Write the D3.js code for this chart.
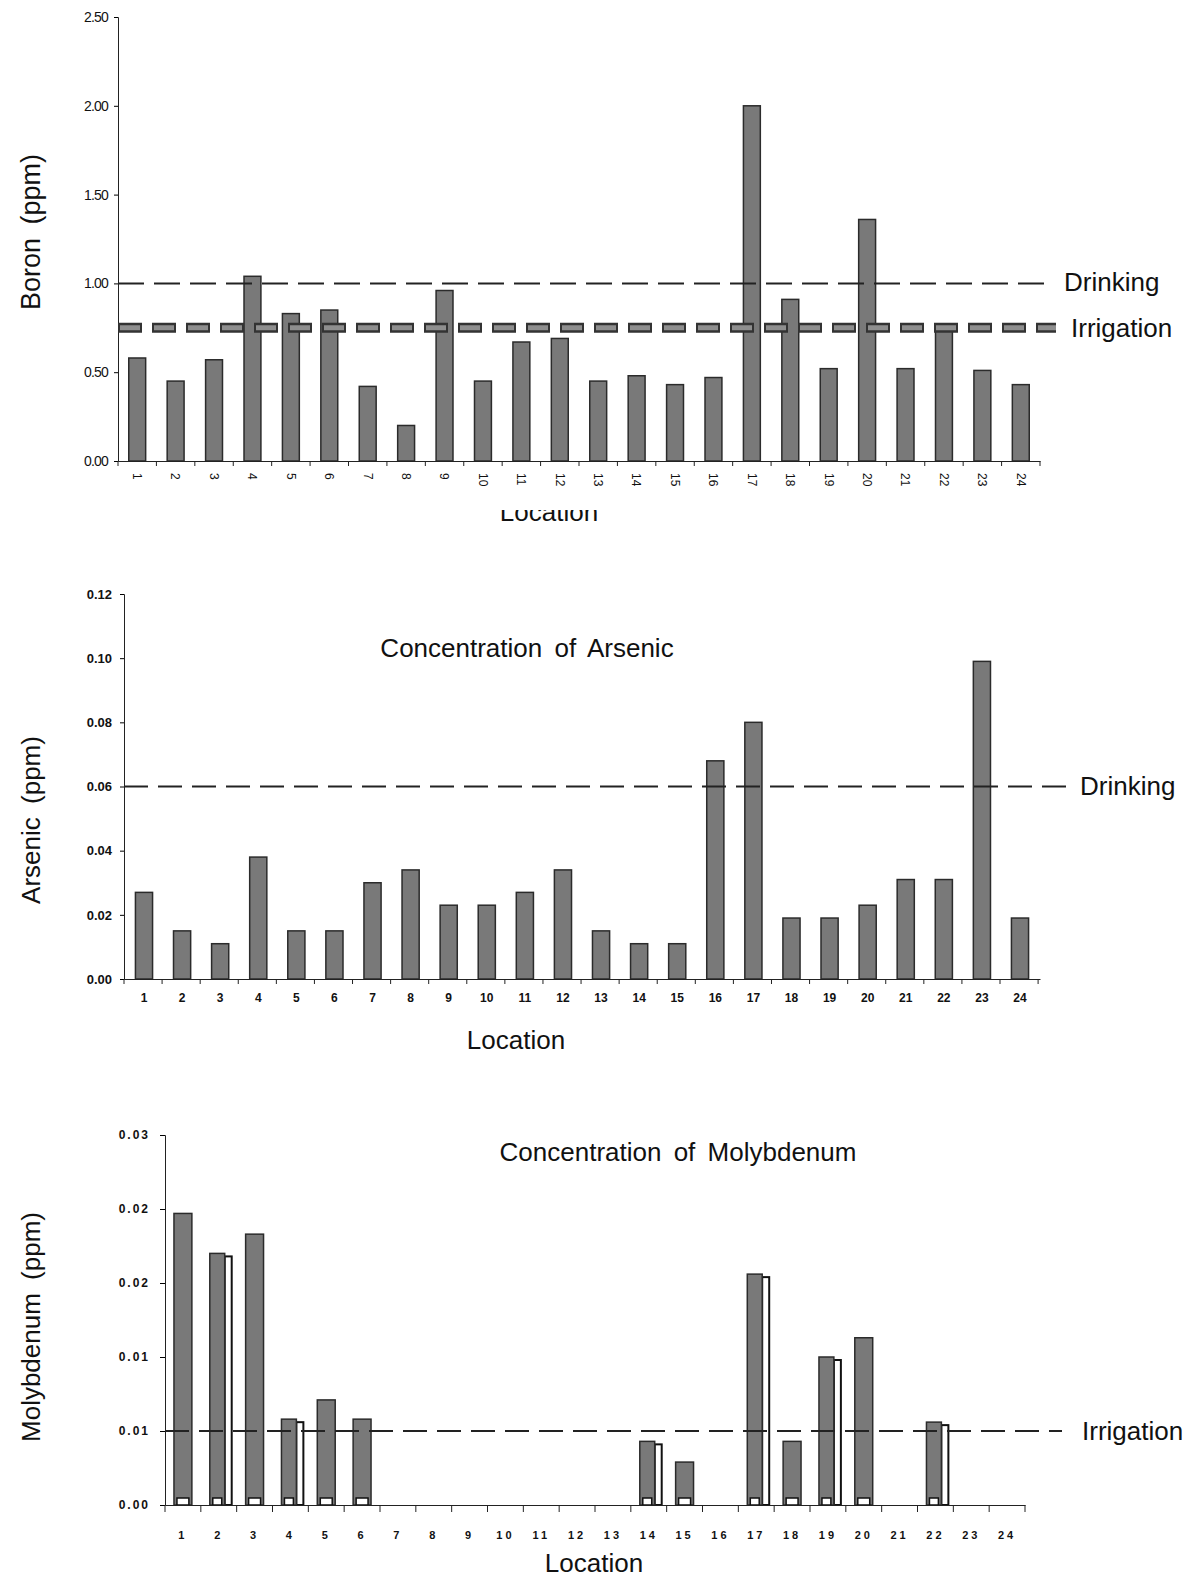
<!DOCTYPE html>
<html>
<head>
<meta charset="utf-8">
<script src="https://cdn.jsdelivr.net/npm/d3@7"></script>
<style>
  html, body { margin: 0; padding: 0; background: #fff; }
  svg { display: block; }
  text { font-family: "Liberation Sans", Arial, sans-serif; fill: #111; }
</style>
</head>
<body>
<svg id="chart" width="1186" height="1579"></svg>
<script>
// ---------- DATA ----------
const locations = d3.range(1, 25).map(String);

const boronValues = [0.58, 0.45, 0.57, 1.04, 0.83, 0.85, 0.42, 0.20, 0.96, 0.45, 0.67, 0.69,
                     0.45, 0.48, 0.43, 0.47, 2.00, 0.91, 0.52, 1.36, 0.52, 0.77, 0.51, 0.43];
const boronTicks = [0, 0.5, 1.0, 1.5, 2.0, 2.5];
const boronTickLabels = ["0.00", "0.50", "1.00", "1.50", "2.00", "2.50"];
const boronDrinking = 1.0;
const boronIrrigation = 0.75;

const arsenicValues = [0.027, 0.015, 0.011, 0.038, 0.015, 0.015, 0.030, 0.034, 0.023, 0.023, 0.027, 0.034,
                       0.015, 0.011, 0.011, 0.068, 0.080, 0.019, 0.019, 0.023, 0.031, 0.031, 0.099, 0.019];
const arsenicTicks = [0, 0.02, 0.04, 0.06, 0.08, 0.10, 0.12];
const arsenicTickLabels = ["0.00", "0.02", "0.04", "0.06", "0.08", "0.10", "0.12"];
const arsenicDrinking = 0.06;

const molyValues = [0.0197, 0.0170, 0.0183, 0.0058, 0.0071, 0.0058, 0, 0, 0, 0, 0, 0,
                    0, 0.0043, 0.0029, 0, 0.0156, 0.0043, 0.0100, 0.0113, 0, 0.0056, 0, 0];
const molyOutlined = [2, 4, 14, 17, 19, 22];
const molyTicks = [0, 0.005, 0.010, 0.015, 0.020, 0.025];
const molyTickLabels = ["0.00", "0.01", "0.01", "0.02", "0.02", "0.03"];
const molyIrrigation = 0.005;

// ---------- DRAW ----------
const svg = d3.select("#chart");
const barFill = "#797979";
const barStroke = "#2b2b2b";
const LBL = "26px";

// ===== Chart 1: Boron =====
(function () {
  const x = d3.scaleBand().domain(locations).range([118, 1040]).paddingInner(0.56).paddingOuter(0.28);
  const y = d3.scaleLinear().domain([0, 2.5]).range([461, 17]);
  const g = svg.append("g");

  g.selectAll("rect.bar").data(boronValues).join("rect")
    .attr("x", (d, i) => x(locations[i]))
    .attr("width", x.bandwidth())
    .attr("y", d => y(d))
    .attr("height", d => y(0) - y(d))
    .attr("fill", barFill).attr("stroke", barStroke).attr("stroke-width", 1.5);

  const yAxis = d3.axisLeft(y).tickValues(boronTicks)
    .tickFormat((d, i) => boronTickLabels[i]).tickSize(4).tickPadding(6);
  const ya = g.append("g").attr("transform", "translate(118,0)").call(yAxis);
  ya.selectAll("text").style("font-size", "14px").attr("font-family", "'Liberation Sans Narrow','Liberation Sans',Arial").attr("letter-spacing", "-0.8px");

  const xAxis = d3.axisBottom(x).tickSize(0).tickPadding(0);
  const xa = g.append("g").attr("transform", `translate(0,${y(0)})`).call(xAxis);
  xa.select(".domain").attr("stroke", "#222");
  xa.selectAll("text")
    .style("font-size", "12px")
    .attr("text-anchor", "start")
    .attr("dy", "0.35em")
    .attr("transform", "translate(0,12) rotate(90)")
    .attr("y", 0).attr("x", 0);
  g.selectAll("line.bt").data(d3.range(25)).join("line")
    .attr("x1", i => 118 + i * x.step()).attr("x2", i => 118 + i * x.step())
    .attr("y1", y(0)).attr("y2", y(0) + 5).attr("stroke", "#222");
  ya.select(".domain").attr("stroke", "#222");

  // Drinking line
  g.append("line").attr("x1", 118).attr("x2", 1050)
    .attr("y1", y(boronDrinking)).attr("y2", y(boronDrinking))
    .attr("stroke", "#222").attr("stroke-width", 2).attr("stroke-dasharray", "26,10");
  g.append("text").attr("x", 1064).attr("y", y(boronDrinking) + 8)
    .style("font-size", LBL).text("Drinking");

  // Irrigation thick line
  g.append("line").attr("x1", 118).attr("x2", 1056)
    .attr("y1", y(boronIrrigation)).attr("y2", y(boronIrrigation))
    .attr("stroke", "#333").attr("stroke-width", 10).attr("stroke-dasharray", "24,10");
  g.append("line").attr("x1", 120).attr("x2", 1056)
    .attr("y1", y(boronIrrigation)).attr("y2", y(boronIrrigation))
    .attr("stroke", "#8e8e8e").attr("stroke-width", 5).attr("stroke-dasharray", "20,14");
  g.append("text").attr("x", 1071).attr("y", y(boronIrrigation) + 9)
    .style("font-size", LBL).text("Irrigation");

  // Y title
  g.append("text").attr("transform", "translate(40,232) rotate(-90)")
    .attr("text-anchor", "middle").style("font-size", "27px").attr("word-spacing", "6px").text("Boron (ppm)");

  // clipped Location label
  svg.append("clipPath").attr("id", "locClip").append("rect")
    .attr("x", 400).attr("y", 510).attr("width", 300).attr("height", 20);
  g.append("text").attr("x", 549).attr("y", 521).attr("text-anchor", "middle")
    .attr("clip-path", "url(#locClip)").style("font-size", LBL).text("Location");
})();

// ===== Chart 2: Arsenic =====
(function () {
  const x = d3.scaleBand().domain(locations).range([124, 1040]).paddingInner(0.55).paddingOuter(0.3);
  const y = d3.scaleLinear().domain([0, 0.12]).range([979, 594]);
  const g = svg.append("g");

  g.selectAll("rect.bar").data(arsenicValues).join("rect")
    .attr("x", (d, i) => x(locations[i]))
    .attr("width", x.bandwidth())
    .attr("y", d => y(d))
    .attr("height", d => y(0) - y(d))
    .attr("fill", barFill).attr("stroke", barStroke).attr("stroke-width", 1.5);

  const yAxis = d3.axisLeft(y).tickValues(arsenicTicks)
    .tickFormat((d, i) => arsenicTickLabels[i]).tickSize(4).tickPadding(8);
  const ya = g.append("g").attr("transform", "translate(124,0)").call(yAxis);
  ya.selectAll("text").style("font-size", "13px").style("font-weight", "bold");
  ya.select(".domain").attr("stroke", "#222");

  const xAxis = d3.axisBottom(x).tickSize(0).tickPadding(14);
  const xa = g.append("g").attr("transform", `translate(0,${y(0)})`).call(xAxis);
  xa.select(".domain").attr("stroke", "#222");
  xa.selectAll("text").style("font-size", "12px").style("font-weight", "bold");
  g.selectAll("line.bt").data(d3.range(25)).join("line")
    .attr("x1", i => 124 + i * x.step()).attr("x2", i => 124 + i * x.step())
    .attr("y1", y(0)).attr("y2", y(0) + 5).attr("stroke", "#222");

  g.append("line").attr("x1", 124).attr("x2", 1066)
    .attr("y1", y(arsenicDrinking)).attr("y2", y(arsenicDrinking))
    .attr("stroke", "#222").attr("stroke-width", 2).attr("stroke-dasharray", "24,10");
  g.append("text").attr("x", 1080).attr("y", y(arsenicDrinking) + 8)
    .style("font-size", LBL).text("Drinking");

  g.append("text").attr("x", 527).attr("y", 657).attr("text-anchor", "middle")
    .style("font-size", LBL).attr("word-spacing", "5px").text("Concentration of Arsenic");
  g.append("text").attr("x", 516).attr("y", 1049).attr("text-anchor", "middle")
    .style("font-size", LBL).text("Location");
  g.append("text").attr("transform", "translate(40,820) rotate(-90)")
    .attr("text-anchor", "middle").style("font-size", LBL).attr("word-spacing", "6px").text("Arsenic (ppm)");
})();

// ===== Chart 3: Molybdenum =====
(function () {
  const x = d3.scaleBand().domain(locations).range([165, 1025]).paddingInner(0.5).paddingOuter(0.25);
  const y = d3.scaleLinear().domain([0, 0.025]).range([1505, 1135]);
  const g = svg.append("g");
  const data = molyValues.map((v, i) => ({ loc: locations[i], v, outlined: molyOutlined.includes(i + 1) }))
    .filter(d => d.v > 0);

  g.selectAll("rect.out").data(data.filter(d => d.outlined)).join("rect")
    .attr("x", d => x(d.loc) + x.bandwidth() - 3)
    .attr("width", 7)
    .attr("y", d => y(d.v) + 3)
    .attr("height", d => y(0) - y(d.v) - 3)
    .attr("fill", "#fff").attr("stroke", "#111").attr("stroke-width", 2);

  g.selectAll("rect.bar").data(data).join("rect")
    .attr("x", d => x(d.loc))
    .attr("width", d => d.outlined ? x.bandwidth() - 3 : x.bandwidth())
    .attr("y", d => y(d.v))
    .attr("height", d => y(0) - y(d.v))
    .attr("fill", barFill).attr("stroke", barStroke).attr("stroke-width", 1.5);

  g.selectAll("rect.base").data(data).join("rect")
    .attr("x", d => x(d.loc) + 3)
    .attr("width", d => (d.outlined ? x.bandwidth() - 3 : x.bandwidth()) - 6)
    .attr("y", y(0) - 7)
    .attr("height", 7)
    .attr("fill", "#fff").attr("stroke", "#111").attr("stroke-width", 1.5);

  const yAxis = d3.axisLeft(y).tickValues(molyTicks)
    .tickFormat((d, i) => molyTickLabels[i]).tickSize(5).tickPadding(10);
  const ya = g.append("g").attr("transform", "translate(165,0)").call(yAxis);
  ya.selectAll("text").style("font-size", "12px").style("font-weight", "bold").attr("letter-spacing", "2px");
  ya.select(".domain").attr("stroke", "#222");

  const xAxis = d3.axisBottom(x).tickSize(0).tickPadding(26);
  const xa = g.append("g").attr("transform", `translate(0,${y(0)})`).call(xAxis);
  xa.select(".domain").attr("stroke", "#222");
  xa.selectAll("text").style("font-size", "11px").style("font-weight", "bold").attr("letter-spacing", "3px");
  g.selectAll("line.bt").data(d3.range(25)).join("line")
    .attr("x1", i => 165 + i * x.step()).attr("x2", i => 165 + i * x.step())
    .attr("y1", y(0)).attr("y2", y(0) + 7).attr("stroke", "#222");

  g.append("line").attr("x1", 165).attr("x2", 1062)
    .attr("y1", y(molyIrrigation)).attr("y2", y(molyIrrigation))
    .attr("stroke", "#222").attr("stroke-width", 2).attr("stroke-dasharray", "24,10");
  g.append("text").attr("x", 1082).attr("y", y(molyIrrigation) + 9)
    .style("font-size", LBL).text("Irrigation");

  g.append("text").attr("x", 678).attr("y", 1161).attr("text-anchor", "middle")
    .style("font-size", LBL).attr("word-spacing", "5px").text("Concentration of Molybdenum");
  g.append("text").attr("x", 594).attr("y", 1572).attr("text-anchor", "middle")
    .style("font-size", LBL).text("Location");
  g.append("text").attr("transform", "translate(40,1327) rotate(-90)")
    .attr("text-anchor", "middle").style("font-size", LBL).attr("word-spacing", "6px").text("Molybdenum (ppm)");
})();
</script>
</body>
</html>
